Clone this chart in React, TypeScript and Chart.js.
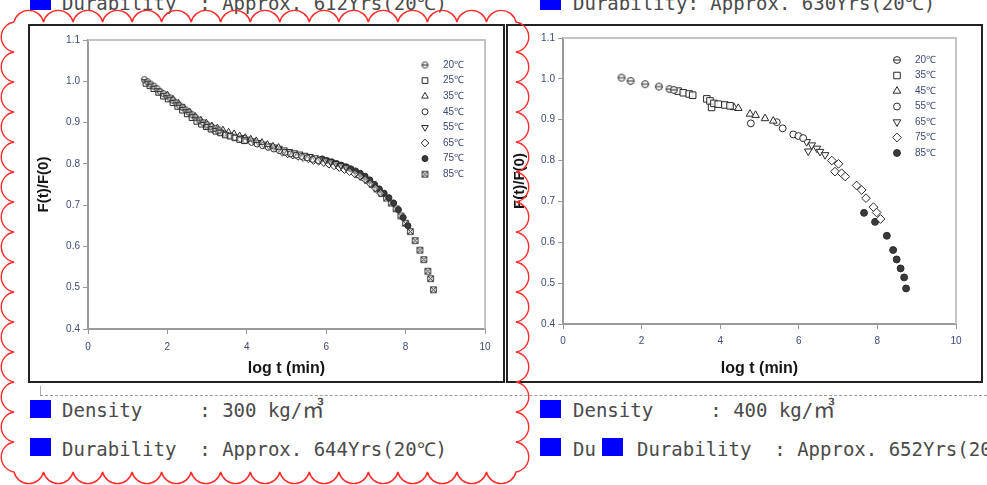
import React, { useEffect, useRef } from 'react';
import { Chart, registerables } from 'chart.js';
import { drawPoint } from 'chart.js/helpers';

Chart.register(...registerables);

// ---------- data ----------
const leftTemps = ['20℃', '25℃', '35℃', '45℃', '55℃', '65℃', '75℃', '85℃'];
const rightTemps = ['20℃', '35℃', '45℃', '55℃', '65℃', '75℃', '85℃'];

const xAxisRange = [0, 10, 2];
const yAxisRange = [0.4, 1.1, 0.1];

const left20 = [[1.42,1.004],[1.5,0.999],[1.58,0.993],[1.66,0.988],[1.74,0.982],[1.82,0.975],[1.9,0.970],[1.98,0.965],[2.06,0.960],[2.14,0.954],[2.22,0.948],[2.3,0.942],[2.38,0.937],[2.46,0.931],[2.54,0.925],[2.62,0.919],[2.7,0.913],[2.8,0.906],[2.9,0.900],[3.0,0.895],[3.1,0.890],[3.2,0.886],[3.3,0.882]];
const left25 = [[1.46,0.995],[1.56,0.989],[1.66,0.982],[1.78,0.973],[1.9,0.964],[2.02,0.957],[2.14,0.948],[2.26,0.939],[2.38,0.930],[2.5,0.921],[2.62,0.912],[2.74,0.903],[2.86,0.896],[2.98,0.890],[3.1,0.884],[3.22,0.879],[3.34,0.875],[3.46,0.870],[3.58,0.867],[3.7,0.863],[3.82,0.859],[3.94,0.856]];
const left35 = [[2.0,0.967],[2.14,0.957],[2.28,0.947],[2.42,0.936],[2.56,0.926],[2.7,0.915],[2.84,0.906],[2.98,0.899],[3.12,0.892],[3.26,0.887],[3.4,0.882],[3.54,0.877],[3.68,0.873],[3.82,0.868],[3.96,0.864],[4.1,0.860],[4.24,0.856],[4.38,0.852],[4.52,0.847],[4.66,0.843],[4.8,0.840]];
const left45 = [[3.0,0.891],[3.14,0.884],[3.28,0.879],[3.42,0.874],[3.56,0.869],[3.7,0.865],[3.84,0.861],[3.98,0.857],[4.12,0.852],[4.26,0.848],[4.4,0.844],[4.54,0.840],[4.68,0.836],[4.82,0.832],[4.96,0.828],[5.1,0.824],[5.24,0.821],[5.38,0.818],[5.52,0.815],[5.66,0.811],[5.8,0.808]];
const left55 = [[3.9,0.864],[4.03,0.860],[4.16,0.856],[4.29,0.852],[4.42,0.848],[4.55,0.844],[4.68,0.841],[4.81,0.838],[4.94,0.834],[5.07,0.830],[5.2,0.827],[5.33,0.824],[5.46,0.821],[5.59,0.818],[5.72,0.815],[5.85,0.812],[5.98,0.809],[6.11,0.805],[6.24,0.801],[6.37,0.796],[6.5,0.792]];
const left65 = [[4.9,0.828],[5.03,0.824],[5.16,0.821],[5.29,0.818],[5.42,0.815],[5.55,0.812],[5.68,0.808],[5.81,0.806],[5.94,0.803],[6.07,0.799],[6.2,0.795],[6.33,0.791],[6.46,0.786],[6.59,0.781],[6.72,0.776],[6.85,0.770],[6.98,0.762],[7.11,0.752],[7.24,0.741],[7.37,0.729]];
const left75 = [[5.9,0.812],[6.02,0.808],[6.14,0.805],[6.26,0.801],[6.38,0.797],[6.5,0.793],[6.62,0.788],[6.74,0.783],[6.86,0.777],[6.98,0.770],[7.1,0.761],[7.22,0.750],[7.34,0.739],[7.46,0.729],[7.58,0.718],[7.7,0.705],[7.82,0.689],[7.94,0.670],[8.06,0.650]];
const left85 = [[6.8,0.774],[6.92,0.768],[7.04,0.760],[7.16,0.750],[7.28,0.739],[7.4,0.728],[7.52,0.717],[7.64,0.705],[7.76,0.691],[7.88,0.674],[8.0,0.656],[8.12,0.636],[8.24,0.614],[8.36,0.591],[8.46,0.568],[8.56,0.540],[8.63,0.522],[8.7,0.495]];

const right20 = [[1.49,1.003],[1.72,0.995],[2.09,0.987],[2.44,0.981],[2.71,0.975],[2.82,0.973]];
const right35 = [[2.93,0.970],[3.06,0.966],[3.21,0.963],[3.30,0.960],[3.66,0.951],[3.74,0.946],[3.78,0.930],[3.84,0.940],[3.95,0.938],[4.12,0.936],[4.25,0.934]];
const right45 = [[4.35,0.930],[4.46,0.928],[4.76,0.914],[4.90,0.911],[5.14,0.903],[5.35,0.897]];
const right55 = [[4.78,0.891],[5.44,0.894],[5.59,0.879],[5.86,0.864],[5.99,0.860],[6.11,0.855]];
const right65 = [[6.20,0.846],[6.24,0.823],[6.33,0.838],[6.46,0.830],[6.54,0.822],[6.67,0.814]];
const right75 = [[6.84,0.800],[6.92,0.773],[7.01,0.792],[7.09,0.769],[7.18,0.761],[7.47,0.739],[7.60,0.728],[7.71,0.708],[7.90,0.686],[7.98,0.673],[8.08,0.657]];
const right85 = [[7.66,0.672],[7.94,0.650],[8.24,0.616],[8.40,0.581],[8.49,0.558],[8.59,0.536],[8.68,0.514],[8.73,0.487]];

const leftSeries = [left20, left25, left35, left45, left55, left65, left75, left85];
const rightSeries = [right20, right35, right45, right55, right65, right75, right85];

const xTitle = 'log t (min)';
const yTitle = 'F(t)/F(0)';

const topLeftText = 'Durability  : Approx. 612Yrs(20℃)';
const topRightText = 'Durability: Approx. 630Yrs(20℃)';
const leftDensity = 'Density     : 300 kg/';
const rightDensity = 'Density     : 400 kg/';
const unitText = '㎥';
const leftDurability = 'Durability  : Approx. 644Yrs(20℃)';
const rightDuFragment = 'Du';
const rightDurability = 'Durability  : Approx. 652Yrs(20℃)';

// ---------- styles ----------
const leftKinds = ['theta', 'rect', 'triangle', 'circle', 'triangleDown', 'rectRot', 'filled', 'boxX'];
const rightKinds = ['theta', 'rect', 'triangle', 'circle', 'triangleDown', 'rectRot', 'filled'];

const FONT = 'Arial, "Liberation Sans", sans-serif';
const TICK_COLOR = '#3d4a78';
const MARK = '#2a2a2a';

function makeSymbol(kind: string, r: number, fill: string): HTMLCanvasElement {
  const s = Math.ceil(r * 2 + 3);
  const c = document.createElement('canvas');
  c.width = s;
  c.height = s;
  const ctx = c.getContext('2d')!;
  const m = s / 2;
  ctx.lineWidth = 1;
  ctx.strokeStyle = MARK;
  ctx.fillStyle = fill;
  if (kind === 'theta') {
    ctx.beginPath();
    ctx.arc(m, m, r, 0, Math.PI * 2);
    ctx.fill();
    ctx.stroke();
    ctx.beginPath();
    ctx.moveTo(m - r, m);
    ctx.lineTo(m + r, m);
    ctx.stroke();
  } else {
    ctx.beginPath();
    ctx.rect(m - r, m - r, r * 2, r * 2);
    ctx.fill();
    ctx.stroke();
    ctx.beginPath();
    ctx.moveTo(m - r, m - r);
    ctx.lineTo(m + r, m + r);
    ctx.moveTo(m + r, m - r);
    ctx.lineTo(m - r, m + r);
    ctx.stroke();
  }
  return c;
}

function styleFor(kind: string, k: number, hollow: string) {
  switch (kind) {
    case 'theta':
      return { pointStyle: makeSymbol('theta', 3 * k, hollow), pointRadius: 3 * k, pointRotation: 0, pointBackgroundColor: hollow, pointBorderColor: MARK };
    case 'boxX':
      return { pointStyle: makeSymbol('boxX', 2.8 * k, hollow), pointRadius: 3 * k, pointRotation: 0, pointBackgroundColor: hollow, pointBorderColor: MARK };
    case 'rect':
      return { pointStyle: 'rect', pointRadius: 4 * k, pointRotation: 0, pointBackgroundColor: hollow, pointBorderColor: MARK };
    case 'triangle':
      return { pointStyle: 'triangle', pointRadius: 3.8 * k, pointRotation: 0, pointBackgroundColor: hollow, pointBorderColor: MARK };
    case 'triangleDown':
      return { pointStyle: 'triangle', pointRadius: 3.8 * k, pointRotation: 180, pointBackgroundColor: hollow, pointBorderColor: MARK };
    case 'rectRot':
      return { pointStyle: 'rectRot', pointRadius: 3.8 * k, pointRotation: 0, pointBackgroundColor: hollow, pointBorderColor: MARK };
    case 'filled':
      return { pointStyle: 'circle', pointRadius: 3 * k, pointRotation: 0, pointBackgroundColor: '#3a3a3a', pointBorderColor: MARK };
    default:
      return { pointStyle: 'circle', pointRadius: 3 * k, pointRotation: 0, pointBackgroundColor: hollow, pointBorderColor: MARK };
  }
}

type ChartProps = {
  left: number; top: number; width: number; height: number;
  series: number[][][]; kinds: string[]; labels: string[];
  padding: { top: number; right: number; left: number; bottom: number };
  yWidth: number; xHeight: number; yTitlePad: number; xTickPad: number;
  legendX: number; legendY: number; legendStep: number; k: number; hollow: string;
};

function ScatterChart(p: ChartProps) {
  const ref = useRef<HTMLCanvasElement>(null);
  useEffect(() => {
    const datasets = p.series.map((pts, i) => ({
      label: p.labels[i],
      data: pts.map(([x, y]) => ({ x, y })),
      showLine: false,
      pointBorderWidth: 1,
      ...styleFor(p.kinds[i], p.k, p.hollow),
    }));

    const framePlugin = {
      id: 'frame',
      afterDraw(chart: any) {
        const { ctx, chartArea: a } = chart;
        ctx.save();
        ctx.strokeStyle = '#c4c4c4';
        ctx.lineWidth = 2;
        ctx.beginPath();
        ctx.moveTo(a.left, a.top);
        ctx.lineTo(a.right, a.top);
        ctx.lineTo(a.right, a.bottom);
        ctx.stroke();
        ctx.restore();
      },
    };

    const legendPlugin = {
      id: 'innerLegend',
      afterDraw(chart: any) {
        const ctx = chart.ctx;
        chart.data.datasets.forEach((ds: any, i: number) => {
          const y = p.legendY + i * p.legendStep;
          ctx.save();
          ctx.fillStyle = ds.pointBackgroundColor === p.hollow ? '#fff' : ds.pointBackgroundColor;
          ctx.strokeStyle = ds.pointBorderColor;
          ctx.lineWidth = 1;
          drawPoint(ctx, { pointStyle: ds.pointStyle, radius: ds.pointRadius, rotation: ds.pointRotation, borderWidth: 1 } as any, p.legendX, y);
          ctx.restore();
          ctx.save();
          ctx.fillStyle = TICK_COLOR;
          ctx.font = `10px ${FONT}`;
          ctx.textBaseline = 'middle';
          ctx.textAlign = 'left';
          ctx.fillText(ds.label, p.legendX + 18, y);
          ctx.restore();
        });
      },
    };

    const chart = new Chart(ref.current!, {
      type: 'scatter',
      data: { datasets },
      options: {
        responsive: false,
        animation: false,
        layout: { padding: p.padding },
        plugins: { legend: { display: false }, tooltip: { enabled: false } },
        scales: {
          x: {
            type: 'linear',
            min: xAxisRange[0],
            max: xAxisRange[1],
            afterFit: (s: any) => { s.height = p.xHeight; },
            ticks: { stepSize: xAxisRange[2], font: { size: 10, family: FONT }, color: TICK_COLOR, padding: p.xTickPad, maxRotation: 0 },
            grid: { drawOnChartArea: false, drawTicks: true, tickLength: 5, color: '#999' },
            border: { color: '#9a9a9a', width: 2 },
            title: { display: true, text: xTitle, color: '#151515', font: { size: 16, weight: 'bold', family: FONT }, padding: { top: 0, bottom: 3 } },
          },
          y: {
            type: 'linear',
            min: yAxisRange[0],
            max: yAxisRange[1],
            afterFit: (s: any) => { s.width = p.yWidth; },
            ticks: { stepSize: yAxisRange[2], font: { size: 10, family: FONT }, color: TICK_COLOR, padding: 3, callback: (v: any) => Number(v).toFixed(1) },
            grid: { drawOnChartArea: false, drawTicks: true, tickLength: 5, color: '#999' },
            border: { color: '#9a9a9a', width: 2 },
            title: { display: true, text: yTitle, color: '#151515', font: { size: 15, weight: 'bold', family: FONT }, padding: { top: p.yTitlePad, bottom: 0 } },
          },
        },
      } as any,
      plugins: [framePlugin, legendPlugin],
    });
    return () => chart.destroy();
  }, []);
  return (
    <canvas
      ref={ref}
      width={p.width}
      height={p.height}
      style={{ position: 'absolute', left: p.left, top: p.top, width: p.width, height: p.height }}
    />
  );
}

function cloudPath(x0: number, y0: number, x1: number, y1: number, nx: number, ny: number, r: number) {
  const dx = (x1 - x0) / nx;
  const dy = (y1 - y0) / ny;
  let d = `M ${x0} ${y0}`;
  for (let i = 1; i <= nx; i++) d += ` A ${r} ${r} 0 0 1 ${x0 + dx * i} ${y0}`;
  for (let i = 1; i <= ny; i++) d += ` A ${r} ${r} 0 0 1 ${x1} ${y0 + dy * i}`;
  for (let i = 1; i <= nx; i++) d += ` A ${r} ${r} 0 0 1 ${x1 - dx * i} ${y1}`;
  for (let i = 1; i <= ny; i++) d += ` A ${r} ${r} 0 0 1 ${x0} ${y1 - dy * i}`;
  return d;
}

const monoText: React.CSSProperties = {
  position: 'absolute',
  fontFamily: '"DejaVu Sans Mono", "Liberation Mono", monospace',
  fontSize: 19,
  lineHeight: '20px',
  color: '#4a4a4a',
  whiteSpace: 'pre',
};

const unitStyle: React.CSSProperties = {
  fontFamily: '"Noto Sans CJK KR", sans-serif',
  fontSize: 22,
  lineHeight: '20px',
};

function Square({ left, top }: { left: number; top: number }) {
  return <div style={{ position: 'absolute', left, top, width: 21, height: 18, background: '#0000ff' }} />;
}

export default function App() {
  return (
    <div style={{ position: 'fixed', left: 0, top: 0, width: 987, height: 485, background: '#fff', overflow: 'hidden' }}>
      {/* top captions (cut off) */}
      <Square left={30} top={-8} />
      <div style={{ ...monoText, left: 62, top: -7 }}>{topLeftText}</div>
      <Square left={540} top={-8} />
      <div style={{ ...monoText, left: 573, top: -7 }}>{topRightText}</div>

      {/* chart frames */}
      <div style={{ position: 'absolute', left: 28, top: 24, width: 473, height: 355, border: '2px solid #222' }} />
      <div style={{ position: 'absolute', left: 506, top: 24, width: 473, height: 355, border: '2px solid #222' }} />

      <ScatterChart
        left={30} top={26} width={473} height={355}
        series={leftSeries} kinds={leftKinds} labels={leftTemps}
        padding={{ top: 14, right: 18, left: 0, bottom: 0 }}
        yWidth={58} xHeight={52} yTitlePad={5} xTickPad={7}
        legendX={395} legendY={39} legendStep={15.6} k={1} hollow="rgba(255,255,255,0.45)"
      />
      <ScatterChart
        left={508} top={26} width={473} height={355}
        series={rightSeries} kinds={rightKinds} labels={rightTemps}
        padding={{ top: 12, right: 25, left: 0, bottom: 0 }}
        yWidth={55} xHeight={57} yTitlePad={3} xTickPad={6}
        legendX={389} legendY={34} legendStep={15.5} k={1.15} hollow="rgba(255,255,255,0.85)"
      />

      {/* dashed separator */}
      <div style={{ position: 'absolute', left: 40, top: 395, width: 947, height: 0, borderTop: '1px dashed #9a9a9a' }} />
      <div style={{ position: 'absolute', left: 40, top: 386, width: 0, height: 9, borderLeft: '1px solid #aaa' }} />

      {/* bottom captions */}
      <Square left={30} top={400} />
      <div style={{ ...monoText, left: 62, top: 397 }}>{leftDensity}<span style={unitStyle}>{unitText}</span></div>
      <Square left={30} top={438} />
      <div style={{ ...monoText, left: 62, top: 439 }}>{leftDurability}</div>

      <Square left={540} top={400} />
      <div style={{ ...monoText, left: 573, top: 397 }}>{rightDensity}<span style={unitStyle}>{unitText}</span></div>
      <Square left={540} top={438} />
      <div style={{ ...monoText, left: 573, top: 439 }}>{rightDuFragment}</div>
      <Square left={602} top={438} />
      <div style={{ ...monoText, left: 637, top: 439 }}>{rightDurability}</div>

      {/* red cloud outline */}
      <svg width={987} height={485} style={{ position: 'absolute', left: 0, top: 0, pointerEvents: 'none' }}>
        <path d={cloudPath(14, 22, 516, 472, 17, 15, 15.2)} fill="none" stroke="#ff2a2a" strokeWidth={1.4} />
      </svg>
    </div>
  );
}
